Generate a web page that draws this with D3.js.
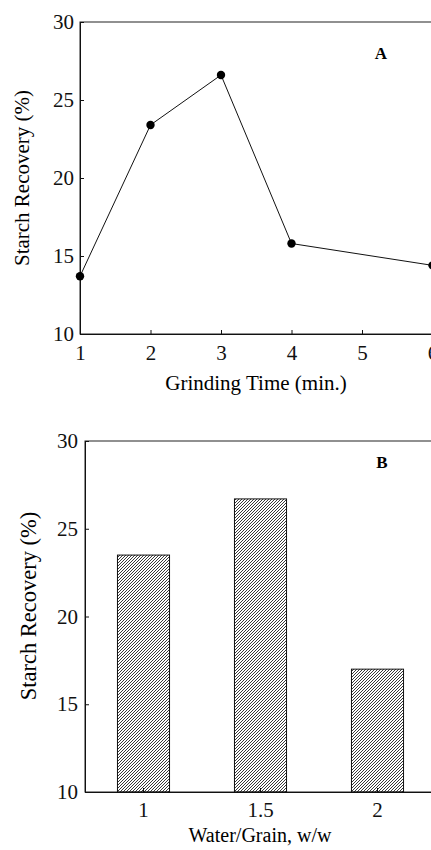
<!DOCTYPE html>
<html>
<head>
<meta charset="utf-8">
<script src="https://cdn.jsdelivr.net/npm/d3@7"></script>
<style>
  body { margin: 0; background: #fff; }
  svg { display: block; }
  .axis path, .axis line { stroke: #111; }
</style>
</head>
<body>
<svg id="chart" width="431" height="850"></svg>
<script>
// panel A: grinding time vs starch recovery
var grindTime = [1, 2, 3, 4, 6];
var recoveryA = [13.7, 23.4, 26.6, 15.8, 14.4];
var xTicksA = [1, 2, 3, 4, 5, 6];

// panel B: water/grain ratio vs starch recovery
var waterGrain = ['1', '1.5', '2'];
var recoveryB = [23.5, 26.7, 17.0];

var yTicks = [10, 15, 20, 25, 30];

var serif = "'Liberation Serif', 'Times New Roman', serif";

var svg = d3.select('#chart').style('font-family', serif);

var defs = svg.append('defs');
defs
  .append('pattern')
  .attr('id', 'hatch')
  .attr('patternUnits', 'userSpaceOnUse')
  .attr('width', 3)
  .attr('height', 3)
  .append('path')
  .attr('d', 'M-1,1L1,-1M0,3L3,0M2,4L4,2')
  .attr('stroke', '#222')
  .attr('stroke-width', 0.9);

function styleAxis(g) {
  g.attr('font-family', null).attr('font-size', null);
  g.selectAll('text')
    .style('font-family', serif)
    .style('font-size', '21px')
    .attr('fill', '#111');
}

// ---- panel A ----
var xA = d3.scaleLinear().domain([1, 6]).range([80, 432.5]);
var yA = d3.scaleLinear().domain([10, 30]).range([334, 22]);

var gA = svg.append('g');

gA.append('rect')
  .attr('x', xA.range()[0])
  .attr('y', yA.range()[1])
  .attr('width', xA.range()[1] - xA.range()[0])
  .attr('height', yA.range()[0] - yA.range()[1])
  .attr('fill', 'none')
  .attr('stroke', '#222')
  .attr('stroke-width', 1);

gA.append('g')
  .attr('class', 'axis')
  .attr('transform', 'translate(0,' + yA.range()[0] + ')')
  .call(d3.axisBottom(xA).tickValues(xTicksA).tickFormat(d3.format('d'))
    .tickSizeInner(-4).tickSizeOuter(0).tickPadding(11))
  .call(styleAxis);

gA.append('g')
  .attr('class', 'axis')
  .attr('transform', 'translate(' + xA.range()[0] + ',0)')
  .call(d3.axisLeft(yA).tickValues(yTicks)
    .tickSizeInner(-4).tickSizeOuter(0).tickPadding(6))
  .call(styleAxis);

var line = d3.line()
  .x(function(d, i) { return xA(grindTime[i]); })
  .y(function(d) { return yA(d); });

gA.append('path')
  .datum(recoveryA)
  .attr('d', line)
  .attr('fill', 'none')
  .attr('stroke', '#111')
  .attr('stroke-width', 1);

gA.selectAll('circle')
  .data(recoveryA)
  .enter()
  .append('circle')
  .attr('cx', function(d, i) { return xA(grindTime[i]); })
  .attr('cy', function(d) { return yA(d); })
  .attr('r', 4.2)
  .attr('fill', '#000');

gA.append('text')
  .attr('x', 381)
  .attr('y', 59)
  .attr('text-anchor', 'middle')
  .attr('font-size', 17)
  .attr('font-weight', 'bold')
  .text('A');

gA.append('text')
  .attr('x', 256)
  .attr('y', 390)
  .attr('text-anchor', 'middle')
  .attr('font-size', 21)
  .text('Grinding Time (min.)');

gA.append('text')
  .attr('transform', 'translate(29,178) rotate(-90)')
  .attr('text-anchor', 'middle')
  .attr('font-size', 21)
  .text('Starch Recovery (%)');

// ---- panel B ----
var xB = d3.scaleBand().domain(waterGrain).range([85, 436])
  .paddingInner(0.555).paddingOuter(0.2775);
var yB = d3.scaleLinear().domain([10, 30]).range([792, 441]);

var gB = svg.append('g');

gB.append('rect')
  .attr('x', xB.range()[0])
  .attr('y', yB.range()[1])
  .attr('width', xB.range()[1] - xB.range()[0])
  .attr('height', yB.range()[0] - yB.range()[1])
  .attr('fill', 'none')
  .attr('stroke', '#222')
  .attr('stroke-width', 1);

gB.selectAll('rect.bar')
  .data(recoveryB)
  .enter()
  .append('rect')
  .attr('class', 'bar')
  .attr('x', function(d, i) { return xB(waterGrain[i]); })
  .attr('y', function(d) { return yB(d); })
  .attr('width', xB.bandwidth())
  .attr('height', function(d) { return yB(10) - yB(d); })
  .attr('fill', 'url(#hatch)')
  .attr('stroke', '#111')
  .attr('stroke-width', 1);

gB.append('g')
  .attr('class', 'axis')
  .attr('transform', 'translate(0,' + yB.range()[0] + ')')
  .call(d3.axisBottom(xB).tickSizeInner(-4).tickSizeOuter(0).tickPadding(10))
  .call(styleAxis);

gB.append('g')
  .attr('class', 'axis')
  .attr('transform', 'translate(' + xB.range()[0] + ',0)')
  .call(d3.axisLeft(yB).tickValues(yTicks)
    .tickSizeInner(-4).tickSizeOuter(0).tickPadding(7))
  .call(styleAxis);

gB.append('text')
  .attr('x', 382)
  .attr('y', 468)
  .attr('text-anchor', 'middle')
  .attr('font-size', 17)
  .attr('font-weight', 'bold')
  .text('B');

gB.append('text')
  .attr('x', 260)
  .attr('y', 842)
  .attr('text-anchor', 'middle')
  .attr('font-size', 20)
  .text('Water/Grain, w/w');

gB.append('text')
  .attr('transform', 'translate(36,606) rotate(-90)')
  .attr('text-anchor', 'middle')
  .attr('font-size', 22.5)
  .text('Starch Recovery (%)');
</script>
</body>
</html>
